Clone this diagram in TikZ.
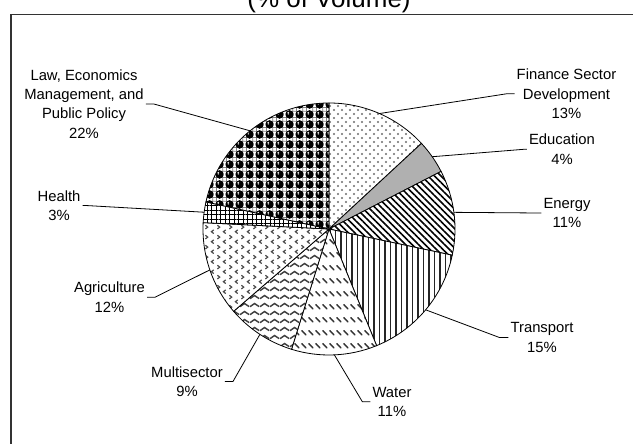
\documentclass[tikz,border=0pt]{standalone}
\usepackage{fontspec}
\setmainfont{Liberation Sans}
\usetikzlibrary{patterns,patterns.meta,calc}

\pgfdeclarepatternformonly{findots}{\pgfqpoint{-1pt}{-1pt}}{\pgfqpoint{9pt}{9pt}}{\pgfqpoint{8pt}{8pt}}{%
  \pgfpathcircle{\pgfqpoint{2pt}{2pt}}{1.15pt}%
  \pgfpathcircle{\pgfqpoint{6pt}{6pt}}{1.15pt}%
  \pgfusepath{fill}}
\pgfdeclarepatternformonly{waterdash}{\pgfqpoint{0pt}{0pt}}{\pgfqpoint{7pt}{13pt}}{\pgfqpoint{7pt}{13pt}}{%
  \pgfsetlinewidth{1.6pt}\pgfsetroundcap
  \pgfpathmoveto{\pgfqpoint{1pt}{10pt}}\pgfpathlineto{\pgfqpoint{5.5pt}{5.5pt}}\pgfusepath{stroke}}
\pgfdeclarepatternformonly{waves}{\pgfqpoint{0pt}{0pt}}{\pgfqpoint{10pt}{8pt}}{\pgfqpoint{10pt}{8pt}}{%
  \pgfsetlinewidth{1.6pt}
  \pgfpathmoveto{\pgfqpoint{0pt}{1.5pt}}%
  \pgfpathcurveto{\pgfqpoint{2.5pt}{1.5pt}}{\pgfqpoint{2.5pt}{5pt}}{\pgfqpoint{5pt}{5pt}}%
  \pgfpathcurveto{\pgfqpoint{7.5pt}{5pt}}{\pgfqpoint{7.5pt}{1.5pt}}{\pgfqpoint{10pt}{1.5pt}}%
  \pgfusepath{stroke}}
\pgfdeclarepatternformonly{divots}{\pgfqpoint{0pt}{0pt}}{\pgfqpoint{12pt}{10pt}}{\pgfqpoint{12pt}{10pt}}{%
  \pgfsetlinewidth{1.3pt}
  \pgfpathmoveto{\pgfqpoint{1.5pt}{9.5pt}}\pgfpathlineto{\pgfqpoint{4pt}{7.5pt}}\pgfpathlineto{\pgfqpoint{1.5pt}{5.5pt}}%
  \pgfpathmoveto{\pgfqpoint{10.5pt}{4.5pt}}\pgfpathlineto{\pgfqpoint{8pt}{2.5pt}}\pgfpathlineto{\pgfqpoint{10.5pt}{0.5pt}}%
  \pgfusepath{stroke}}
\pgfdeclarepatterninherentlycolored{spheres}{\pgfqpoint{0pt}{0pt}}{\pgfqpoint{10pt}{10pt}}{\pgfqpoint{10pt}{10pt}}{%
  \pgfsetfillcolor{white}\pgfpathrectangle{\pgfqpoint{0pt}{0pt}}{\pgfqpoint{10pt}{10pt}}\pgfusepath{fill}%
  \pgfsetstrokecolor{gray}\pgfsetlinewidth{0.8pt}%
  \pgfpathrectangle{\pgfqpoint{3pt}{3pt}}{\pgfqpoint{4pt}{4pt}}\pgfusepath{stroke}%
  \pgfsetfillcolor{black}%
  \pgfpathcircle{\pgfqpoint{0pt}{0pt}}{4pt}\pgfpathcircle{\pgfqpoint{10pt}{0pt}}{4pt}%
  \pgfpathcircle{\pgfqpoint{0pt}{10pt}}{4pt}\pgfpathcircle{\pgfqpoint{10pt}{10pt}}{4pt}\pgfusepath{fill}%
  \pgfsetfillcolor{white}%
  \pgfpathcircle{\pgfqpoint{9pt}{1.2pt}}{1pt}\pgfpathcircle{\pgfqpoint{9pt}{11.2pt}}{1pt}%
  \pgfpathcircle{\pgfqpoint{-1pt}{1.2pt}}{1pt}\pgfusepath{fill}}

\newcommand\myslice[3]{%
  \fill[white] (C) -- ($(C)+(#2:126pt)$) arc[start angle=#2, end angle=#3, radius=126pt] -- cycle;
  \fill[#1] (C) -- ($(C)+(#2:126pt)$) arc[start angle=#2, end angle=#3, radius=126pt] -- cycle;
  \draw[slice] (C) -- ($(C)+(#2:126pt)$) arc[start angle=#2, end angle=#3, radius=126pt] -- cycle;}

\begin{document}
\begin{tikzpicture}[x=1pt,y=1pt,
  lbl/.style={align=center,inner sep=2pt,font=\fontsize{14.8}{19.3}\selectfont},
  leader/.style={line width=0.8pt,black},
  slice/.style={draw=black,line width=0.8pt}]
\useasboundingbox (0,0) rectangle (633,444);
\fill[white] (0,0) rectangle (633,444);
\begin{scope}
  \clip (0,0) rectangle (633,444);
  \draw[line width=1.6pt,black!80] (11,429.5) rectangle (700,-50);
\end{scope}
\node[anchor=base,inner sep=0,font=\fontsize{26}{30}\selectfont] (title) at (329,436) {(\% of Volume)};

\coordinate (C) at (329,215);

\myslice{pattern=findots,pattern color=gray!85!black}{90}{42.8}
\myslice{gray!62}{42.8}{27.2}
\myslice{pattern={Lines[angle=-45,distance=4.6pt,line width=1.6pt]},pattern color=black}{27.2}{-12}
\myslice{pattern={Lines[angle=90,distance=5.5pt,line width=1.7pt]},pattern color=black!85}{-12}{-67.8}
\myslice{pattern=waterdash,pattern color=black!80}{-67.8}{-107.3}
\myslice{pattern=waves,pattern color=black!75}{-107.3}{-139.2}
\myslice{pattern=divots,pattern color=black!70}{-139.2}{-182.9}
\myslice{pattern={Hatch[angle=0,distance=4.5pt,line width=0.9pt]},pattern color=black}{-182.9}{-192.4}
\myslice{pattern=spheres}{-192.4}{-270}

% leader end points on the pie
\coordinate (p-fin) at ($(C)+(66.4:126)$);
\coordinate (p-edu) at ($(C)+(35:126)$);
\coordinate (p-ene) at ($(C)+(7.6:126)$);
\coordinate (p-tra) at ($(C)+(-39.9:126)$);
\coordinate (p-wat) at ($(C)+(-87.55:126)$);
\coordinate (p-mul) at ($(C)+(-123.25:126)$);
\coordinate (p-agr) at ($(C)+(-161.05:126)$);
\coordinate (p-hea) at ($(C)+(-187.65:126)$);
\coordinate (p-law) at ($(C)+(128.8:126)$);

% labels
\node[lbl] (fin) at (566.5,350.2) {Finance Sector\\Development\\13\%};
\node[lbl] (edu) at (562,294.7) {Education\\4\%};
\node[lbl] (ene) at (567,231) {Energy\\11\%};
\node[lbl] (tra) at (542,106.5) {Transport\\15\%};
\node[lbl] (wat) at (392,42.3) {Water\\11\%};
\node[lbl] (mul) at (187,62.5) {Multisector\\9\%};
\node[lbl] (agr) at (109.5,146.8) {Agriculture\\12\%};
\node[lbl] (hea) at (59,238.5) {Health\\3\%};
\node[lbl] (law) at (84,340) {Law, Economics\\Management, and\\Public Policy\\22\%};

% leaders
\draw[leader] (p-fin) -- ([xshift=-8pt]fin.west) -- (fin.west);
\draw[leader] (p-edu) -- ([xshift=-3pt]edu.west) -- (edu.west);
\draw[leader] (p-ene) -- ([xshift=-3pt]ene.west) -- (ene.west);
\draw[leader] (p-tra) -- ([xshift=-9pt]tra.west) -- (tra.west);
\draw[leader] (p-wat) -- ([xshift=-8pt]wat.west) -- (wat.west);
\draw[leader] (p-mul) -- ([xshift=8pt]mul.east) -- (mul.east);
\draw[leader] (p-agr) -- ([xshift=8pt]agr.east) -- (agr.east);
\draw[leader] (p-hea) -- ([xshift=3pt]hea.east) -- (hea.east);
\draw[leader] (p-law) -- ([xshift=8pt]law.east) -- (law.east);
\end{tikzpicture}
\end{document}
